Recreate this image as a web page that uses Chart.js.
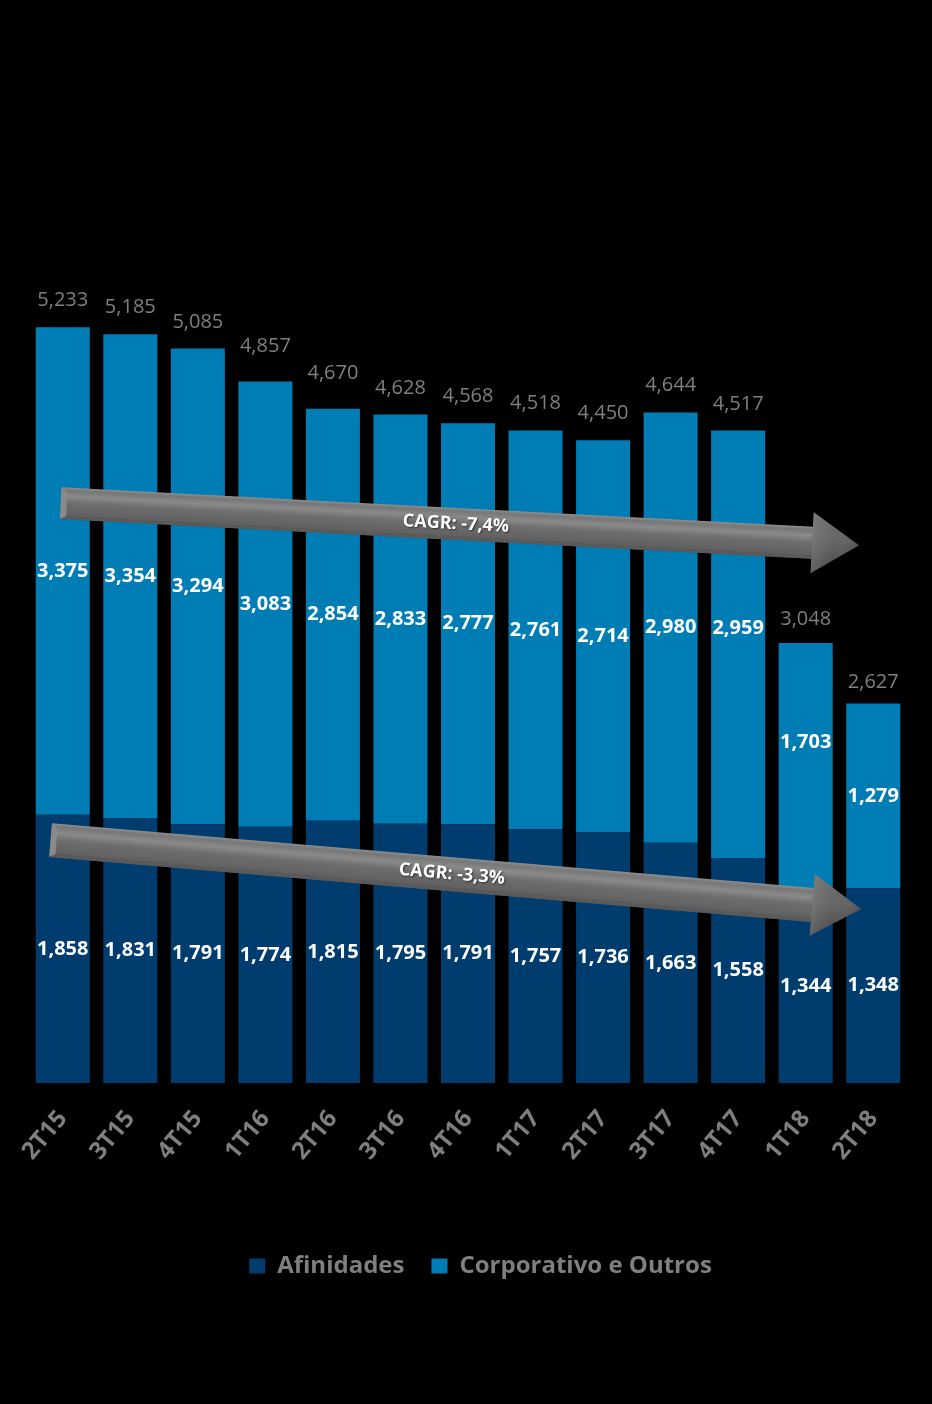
<!DOCTYPE html>
<html><head><meta charset="utf-8">
<script src="https://cdn.jsdelivr.net/npm/chart.js@4.4.1/dist/chart.umd.min.js"></script>
<style>html,body{margin:0;padding:0;background:#000;overflow:hidden}</style>
</head><body>
<canvas id="c" width="932" height="1404" style="display:block;width:932px;height:1404px"></canvas>
<script>
const categories = ['2T15','3T15','4T15','1T16','2T16','3T16','4T16','1T17','2T17','3T17','4T17','1T18','2T18'];
const afinidades = [1858,1831,1791,1774,1815,1795,1791,1757,1736,1663,1558,1344,1348];
const corporativo = [3375,3354,3294,3083,2854,2833,2777,2761,2714,2980,2959,1703,1279];
const totals = [5233,5185,5085,4857,4670,4628,4568,4518,4450,4644,4517,3048,2627];
const seriesNames = ['Afinidades','Corporativo e Outros'];
// trend arrows in data coordinates (category index, value)
const cagrLabels = ['CAGR: -7,4%','CAGR: -3,3%'];
const arrowFrom = [[-0.03,4015],[-0.18,1682]];
const arrowTo = [[11.79,3724],[11.82,1204]];

// label nudges (pixels) used by the original layout to keep labels clear of the arrows
const upperLabelNudge = {10:-16, 11:-24};
const totalLabelNudge = {3:-9, 4:-9, 11:3, 12:5};

const FONT = "'Open Sans', 'DejaVu Sans', sans-serif";
const fmt = v => v.toLocaleString('en-US');

const bgPlugin = {
  id:'bg',
  beforeDraw(chart){const c=chart.ctx;c.save();c.fillStyle='#000';c.fillRect(0,0,chart.width,chart.height);c.restore();}
};

function drawArrow(ctx, x0,y0,x1,y1, s,h,hl, text){
  const a = Math.atan2(y1-y0,x1-x0);
  const L = Math.hypot(x1-x0,y1-y0);
  ctx.save();
  ctx.translate(x0,y0); ctx.rotate(a);
  const sb = L-hl;
  let g = ctx.createLinearGradient(0,-s,0,s);
  g.addColorStop(0,'#8e8e8e');
  g.addColorStop(0.1,'#777777');
  g.addColorStop(0.28,'#8a8a8a');
  g.addColorStop(0.5,'#6d6d6d');
  g.addColorStop(0.85,'#626262');
  g.addColorStop(1,'#4c4c4c');
  ctx.fillStyle=g;
  ctx.beginPath();
  ctx.moveTo(0,-s); ctx.lineTo(sb+1,-s); ctx.lineTo(sb+1,s); ctx.lineTo(0,s); ctx.closePath();
  ctx.fill();
  let gh = ctx.createLinearGradient(sb,-h,sb,h);
  gh.addColorStop(0,'#6e6e6e');
  gh.addColorStop(0.45,'#666666');
  gh.addColorStop(1,'#474747');
  ctx.fillStyle=gh;
  ctx.beginPath();
  ctx.moveTo(sb,-h); ctx.lineTo(L,0); ctx.lineTo(sb,h); ctx.closePath();
  ctx.fill();
  let gh2 = ctx.createLinearGradient(sb,0,L,0);
  gh2.addColorStop(0,'rgba(150,150,150,0.35)');
  gh2.addColorStop(0.5,'rgba(120,120,120,0.0)');
  gh2.addColorStop(1,'rgba(40,40,40,0.3)');
  ctx.fillStyle=gh2;
  ctx.beginPath();
  ctx.moveTo(sb,-h); ctx.lineTo(L,0); ctx.lineTo(sb,h); ctx.closePath();
  ctx.fill();
  ctx.fillStyle='#8a8a8a';
  ctx.beginPath();
  ctx.moveTo(0,-s); ctx.lineTo(6,-s+5); ctx.lineTo(6,s-3); ctx.lineTo(0,s); ctx.closePath();
  ctx.fill();
  ctx.fillStyle='#5a5a5a';
  ctx.beginPath();
  ctx.moveTo(0,s); ctx.lineTo(6,s-3); ctx.lineTo(sb,s-3); ctx.lineTo(sb,s); ctx.closePath();
  ctx.fill();
  ctx.font = "bold 18px " + FONT;
  ctx.fillStyle='#ffffff';
  ctx.textAlign='center'; ctx.textBaseline='middle';
  ctx.shadowColor='rgba(0,0,0,0.55)'; ctx.shadowBlur=2; ctx.shadowOffsetX=1; ctx.shadowOffsetY=1;
  ctx.fillText(text, L*0.495, 0);
  ctx.restore();
}

const labelPlugin = {
  id:'labels',
  afterDatasetsDraw(chart){
    const ctx = chart.ctx;
    const xs = chart.scales.x, ys = chart.scales.y;
    const px = i => xs.getPixelForValue(0) + i*(xs.getPixelForValue(1)-xs.getPixelForValue(0));
    for(let k=0;k<cagrLabels.length;k++){
      drawArrow(ctx, px(arrowFrom[k][0]), ys.getPixelForValue(arrowFrom[k][1]),
                px(arrowTo[k][0]), ys.getPixelForValue(arrowTo[k][1]),
                k===0?16:17, k===0?30.5:31, k===0?47:49, cagrLabels[k]);
    }
    ctx.save();
    ctx.textAlign='center'; ctx.textBaseline='middle';
    ctx.font = "bold 20px " + FONT;
    ctx.fillStyle='#ffffff';
    chart.data.datasets.forEach((ds,di)=>{
      const meta = chart.getDatasetMeta(di);
      meta.data.forEach((bar,i)=>{
        const p = bar.getProps(['x','y','base'],true);
        const dy = di===1 ? (upperLabelNudge[i]||0) : 0;
        ctx.fillText(fmt(ds.data[i]), p.x, (p.y+p.base)/2 + dy);
      });
    });
    const top = chart.getDatasetMeta(1);
    ctx.font = "20px " + FONT;
    ctx.fillStyle='#7f7f7f';
    ctx.textBaseline='alphabetic';
    top.data.forEach((bar,i)=>{
      const p = bar.getProps(['x','y'],true);
      ctx.fillText(fmt(totals[i]), p.x, p.y-21 + (totalLabelNudge[i]||0));
    });
    ctx.restore();
  }
};

new Chart(document.getElementById('c'), {
  type:'bar',
  data:{
    labels: categories,
    datasets:[
      {label: seriesNames[0], data: afinidades, backgroundColor:'#003d6e', borderWidth:0},
      {label: seriesNames[1], data: corporativo, backgroundColor:'#007db5', borderWidth:0}
    ]
  },
  options:{
    responsive:false, animation:false, devicePixelRatio:1,
    layout:{padding:{left:29,right:0,top:72,bottom:116}},
    datasets:{bar:{barPercentage:0.8,categoryPercentage:1}},
    scales:{
      x:{stacked:true, grid:{display:false,drawTicks:false}, border:{display:false},
         ticks:{color:'#7f7f7f', font:{family:FONT,size:24,weight:'bold'}, minRotation:50, maxRotation:50, padding:22},
         afterFit(s){ s.height = 144; }},
      y:{stacked:true, position:'right', min:0, max:7000, grid:{display:false}, border:{display:false},
         ticks:{display:false}, afterFit(s){ s.width = 25; }}
    },
    plugins:{
      legend:{position:'bottom', labels:{color:'#7f7f7f', font:{family:FONT,size:24,weight:'bold'}, boxWidth:16, boxHeight:15, padding:27}},
      tooltip:{enabled:false}
    }
  },
  plugins:[bgPlugin,labelPlugin]
});
</script>
</body></html>
